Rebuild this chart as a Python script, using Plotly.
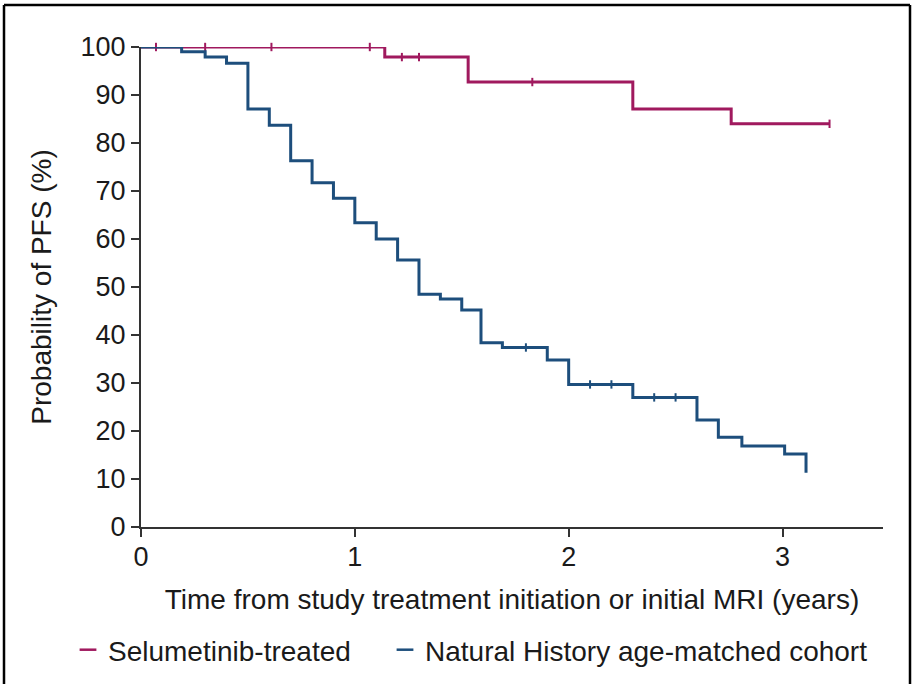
import plotly.graph_objects as go

# Kaplan-Meier step data (time in years, PFS probability in %)
sel_time = [0, 1.14, 1.53, 2.30, 2.76, 3.22]
sel_surv = [100, 97.9, 92.7, 87.1, 84.0, 84.0]
sel_censor = [0.07, 0.30, 0.61, 1.07, 1.22, 1.30, 1.83, 3.22]

nh_time = [0, 0.19, 0.30, 0.40, 0.50, 0.60, 0.70, 0.80, 0.90, 1.00, 1.10, 1.20,
           1.30, 1.40, 1.50, 1.59, 1.69, 1.90, 2.00, 2.30, 2.60, 2.70, 2.81,
           3.01, 3.11]
nh_surv = [100, 99.0, 97.9, 96.6, 87.1, 83.7, 76.3, 71.7, 68.5, 63.4, 60.0, 55.6,
           48.5, 47.5, 45.2, 38.4, 37.4, 34.8, 29.7, 27.0, 22.3, 18.7, 16.9,
           15.2, 11.3]
nh_censor = [1.80, 2.10, 2.20, 2.40, 2.50]

series_names = ["Selumetinib-treated", "Natural History age-matched cohort"]
series_colors = ["#a0195e", "#1d4e7c"]
x_ticks = [0, 1, 2, 3]
y_ticks = list(range(0, 101, 10))


def step_value(times, surv, t):
    val = surv[0]
    for ti, si in zip(times, surv):
        if ti <= t:
            val = si
    return val


FONT = "Liberation Sans, Arial, sans-serif"
fig = go.Figure()

for name, color, times, surv, cens, leg in [
    (series_names[0], series_colors[0], sel_time, sel_surv, sel_censor, "legend"),
    (series_names[1], series_colors[1], nh_time, nh_surv, nh_censor, "legend2"),
]:
    fig.add_trace(go.Scatter(
        x=times, y=surv, mode="lines", line=dict(color=color, width=3, shape="hv"),
        showlegend=False, cliponaxis=False, hoverinfo="skip"))
    fig.add_trace(go.Scatter(
        x=cens, y=[step_value(times, surv, t) for t in cens], mode="markers",
        marker=dict(symbol="line-ns", size=6, line=dict(color=color, width=2)),
        showlegend=False, cliponaxis=False, hoverinfo="skip"))
    # legend entry: short dash
    fig.add_trace(go.Scatter(
        x=[None], y=[None], mode="markers", name=name, legend=leg,
        marker=dict(symbol="line-ew", size=12, line=dict(color=color, width=2.5))))

L, T, W, H = 141, 47, 742, 480


def px_x(p):
    return (p - L) / W


def px_y(p):
    return (T + H - p) / H


frame = dict(type="line", xref="paper", yref="paper", line=dict(color="black", width=2.5))
fig.add_shape(**frame, x0=px_x(4), x1=px_x(910), y0=px_y(5), y1=px_y(5))
fig.add_shape(**frame, x0=px_x(4), x1=px_x(4), y0=px_y(5), y1=px_y(700))
fig.add_shape(**frame, x0=px_x(910), x1=px_x(910), y0=px_y(5), y1=px_y(700))

axis_common = dict(
    showgrid=False, zeroline=False, showline=True, linecolor="#333", linewidth=2,
    ticks="outside", ticklen=8, tickwidth=2, tickcolor="#333",
    tickfont=dict(family=FONT, size=27, color="#1a1a1a"),
)

legend_common = dict(orientation="h", xanchor="left", y=px_y(650), yanchor="middle",
                     font=dict(family=FONT, size=28), itemwidth=30,
                     bgcolor="rgba(0,0,0,0)")

fig.update_layout(
    width=913, height=684,
    margin=dict(l=L, r=913 - L - W, t=T, b=684 - T - H, autoexpand=False),
    paper_bgcolor="white", plot_bgcolor="white",
    font=dict(family=FONT, color="#1a1a1a"),
    xaxis=dict(range=[0, 3.47], tickvals=x_ticks, **axis_common, ticklabelstandoff=-3,
               title=dict(text="Time from study treatment initiation or initial MRI (years)",
                          font=dict(family=FONT, size=28), standoff=18)),
    yaxis=dict(range=[0, 100], tickvals=y_ticks, **axis_common,
               title=dict(text="Probability of PFS (%)",
                          font=dict(family=FONT, size=28), standoff=21)),
    legend=dict(x=px_x(68), **legend_common),
    legend2=dict(x=px_x(385), **legend_common),
)

fig.write_html("out.html")
